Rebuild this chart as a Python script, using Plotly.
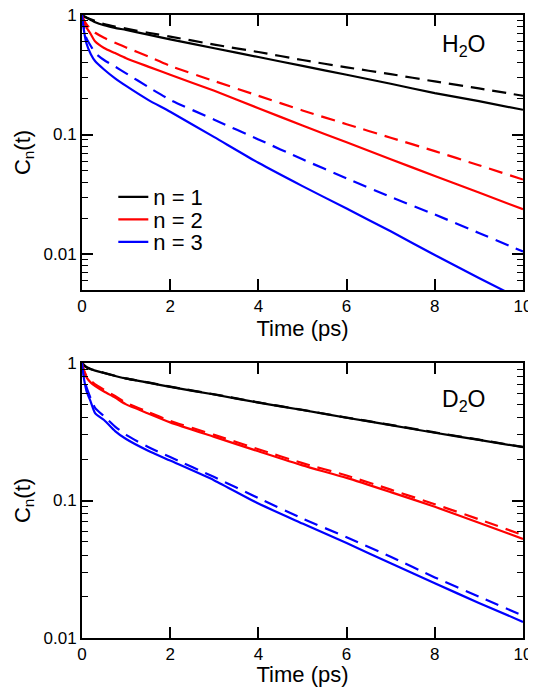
import plotly.graph_objects as go
from plotly.subplots import make_subplots

# Time grid (ps)
time_ps = [0, 0.05, 0.1, 0.2, 0.3, 0.5, 0.75, 1, 1.5, 2, 3, 4, 5, 6, 7, 8, 9, 10]

# H2O panel (solid and dashed)
h2o_n1_solid = [1, 0.97, 0.95, 0.91, 0.87, 0.82, 0.78, 0.75, 0.685, 0.625, 0.527, 0.445, 0.375, 0.316, 0.266, 0.222, 0.19, 0.161]
h2o_n1_dash = [1, 0.975, 0.955, 0.92, 0.89, 0.84, 0.80, 0.77, 0.71, 0.66, 0.565, 0.49, 0.42, 0.365, 0.32, 0.278, 0.243, 0.211]
h2o_n2_solid = [1, 0.87, 0.79, 0.69, 0.60, 0.53, 0.48, 0.435, 0.37, 0.316, 0.232, 0.166, 0.119, 0.086, 0.062, 0.045, 0.0327, 0.0237]
h2o_n2_dash = [1, 0.90, 0.84, 0.76, 0.71, 0.645, 0.585, 0.535, 0.45, 0.375, 0.28, 0.211, 0.159, 0.122, 0.094, 0.0726, 0.0553, 0.042]
h2o_n3_solid = [1, 0.72, 0.58, 0.47, 0.41, 0.35, 0.295, 0.255, 0.195, 0.155, 0.095, 0.058, 0.037, 0.024, 0.0155, 0.0098, 0.0063, 0.0041]
h2o_n3_dash = [1, 0.76, 0.64, 0.55, 0.48, 0.42, 0.37, 0.325, 0.25, 0.195, 0.133, 0.091, 0.062, 0.043, 0.030, 0.0214, 0.015, 0.0105]

# D2O panel (solid and dashed)
d2o_n1_solid = [1, 0.96, 0.93, 0.90, 0.88, 0.845, 0.805, 0.77, 0.72, 0.67, 0.59, 0.515, 0.455, 0.40, 0.353, 0.311, 0.276, 0.244]
d2o_n1_dash = [1, 0.965, 0.935, 0.905, 0.883, 0.848, 0.808, 0.772, 0.722, 0.673, 0.592, 0.517, 0.456, 0.401, 0.355, 0.313, 0.277, 0.245]
d2o_n2_solid = [1, 0.86, 0.79, 0.72, 0.68, 0.62, 0.56, 0.50, 0.43, 0.37, 0.29, 0.228, 0.18, 0.146, 0.115, 0.090, 0.069, 0.0525]
d2o_n2_dash = [1, 0.88, 0.81, 0.745, 0.70, 0.64, 0.575, 0.515, 0.44, 0.38, 0.30, 0.236, 0.187, 0.152, 0.12, 0.094, 0.073, 0.056]
d2o_n3_solid = [1, 0.75, 0.63, 0.52, 0.43, 0.385, 0.32, 0.28, 0.23, 0.195, 0.14, 0.095, 0.068, 0.049, 0.035, 0.025, 0.018, 0.0131]
d2o_n3_dash = [1, 0.78, 0.67, 0.55, 0.47, 0.41, 0.345, 0.30, 0.245, 0.207, 0.148, 0.104, 0.074, 0.054, 0.039, 0.0276, 0.020, 0.0145]

legend_names = ["n = 1", "n = 2", "n = 3"]
colors = ["#000000", "#ff0000", "#0000ff"]
panel_labels = ["H<sub>2</sub>O", "D<sub>2</sub>O"]
x_ticks = [0, 2, 4, 6, 8, 10]
y_tickvals = [0.01, 0.1, 1]
y_ticktext = ["0.01", "0.1", "1"]

FONT = "Liberation Sans, Arial, Helvetica, sans-serif"
DASH = "14px,8px"

fig = make_subplots(rows=2, cols=1)

legend_ids = ["legend", "legend2", "legend3"]

panels = [
    (1, [h2o_n1_solid, h2o_n2_solid, h2o_n3_solid], [h2o_n1_dash, h2o_n2_dash, h2o_n3_dash]),
    (2, [d2o_n1_solid, d2o_n2_solid, d2o_n3_solid], [d2o_n1_dash, d2o_n2_dash, d2o_n3_dash]),
]

for row, solids, dashes in panels:
    for i in range(3):
        fig.add_trace(go.Scatter(x=time_ps, y=dashes[i], mode="lines",
                                 line=dict(color=colors[i], width=2.2, dash=DASH, shape="spline", smoothing=0.6),
                                 showlegend=False, hoverinfo="skip"), row=row, col=1)
    for i in range(3):
        fig.add_trace(go.Scatter(x=time_ps, y=solids[i], mode="lines", name=legend_names[i],
                                 legend=legend_ids[i],
                                 line=dict(color=colors[i], width=2.2, shape="spline", smoothing=0.6),
                                 showlegend=(row == 1)), row=row, col=1)

axis_common = dict(showline=True, linecolor="black", linewidth=2, mirror="allticks",
                   ticks="inside", ticklen=11, tickwidth=1.5, tickcolor="black",
                   showgrid=False, zeroline=False, automargin=False, ticklabeloverflow="allow",
                   tickfont=dict(family=FONT, size=17, color="black"))

# the page body adds an 8px offset, so the figure is drawn 8px smaller
W, H = 528, 679
top_dom = [(630 - 282) / 623, 1.0]
bot_dom = [0.0, (630 - 355) / 623]

legend_style = dict(x=0.071, xanchor="left", yanchor="middle", bgcolor="rgba(0,0,0,0)", borderwidth=0,
                    font=dict(family=FONT, size=22, color="black"), itemwidth=30)
legend_rows_y = [(630 - 189) / 623, (630 - 211.5) / 623, (630 - 234) / 623]

fig.update_layout(
    width=W, height=H,
    margin=dict(l=74, r=13, t=7, b=49, autoexpand=False),
    paper_bgcolor="white", plot_bgcolor="white",
    font=dict(family=FONT, color="black"),
    showlegend=True,
    legend=dict(y=legend_rows_y[0], **legend_style),
    legend2=dict(y=legend_rows_y[1], **legend_style),
    legend3=dict(y=legend_rows_y[2], **legend_style),
)

for ax in ["xaxis", "xaxis2"]:
    fig.layout[ax].update(range=[0, 10], tickvals=x_ticks,
                          title=dict(text="Time (ps)", font=dict(family=FONT, size=22, color="black"), standoff=0),
                          **axis_common)
for ax, rng, dom in [("yaxis", [-2.30103, 0], top_dom), ("yaxis2", [-2, 0], bot_dom)]:
    fig.layout[ax].update(type="log", range=rng, domain=dom, tickvals=y_tickvals, ticktext=y_ticktext,
                          minor=dict(ticks="inside", ticklen=6, tickwidth=1.2, tickcolor="black", showgrid=False,
                                     dtick="D1"),
                          title=dict(text="C<sub>n</sub>(t)", font=dict(family=FONT, size=22, color="black"), standoff=7),
                          **axis_common)

fig.add_annotation(x=0.866, y=0.951, xref="paper", yref="paper", text=panel_labels[0], showarrow=False,
                   font=dict(family=FONT, size=23, color="black"), xanchor="center", yanchor="middle")
fig.add_annotation(x=0.866, y=0.382, xref="paper", yref="paper", text=panel_labels[1], showarrow=False,
                   font=dict(family=FONT, size=23, color="black"), xanchor="center", yanchor="middle")

fig.write_html("out.html")
